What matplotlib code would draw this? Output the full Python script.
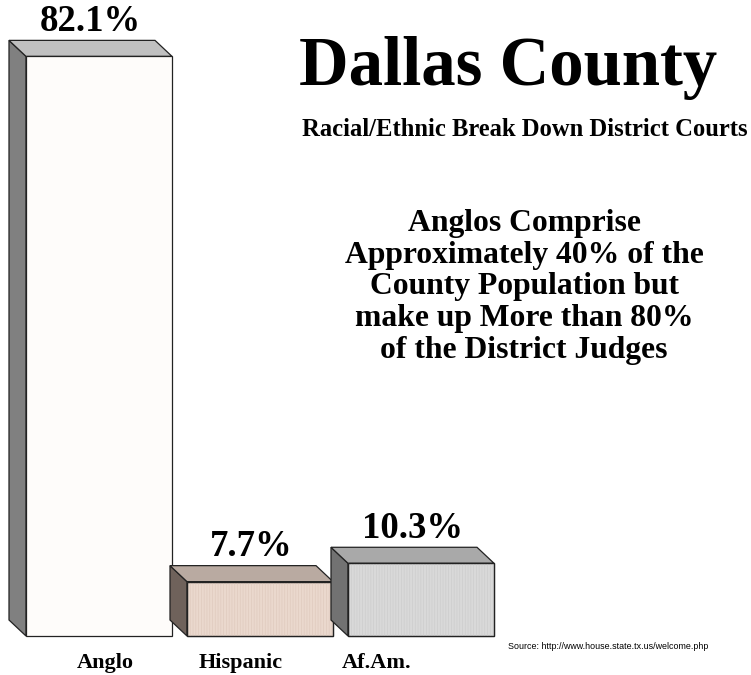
import matplotlib
matplotlib.use("Agg")
import matplotlib.pyplot as plt
from matplotlib.patches import Polygon

categories = ["Anglo", "Hispanic", "Af.Am."]
shares = [82.1, 7.7, 10.3]
value_labels = ["82.1%", "7.7%", "10.3%"]

# face colours per bar: front, side, top
front_colors = ["#fefcfa", "#ead8cd", "#d9d9d9"]
side_colors = ["#808080", "#6f625b", "#727272"]
top_colors = ["#c0c0c0", "#b9aaa1", "#a9a9a9"]
hatch_colors = ["#fefcfa", "#dfcabe", "#cdcdcd"]

plt.rcParams["hatch.linewidth"] = 0.5

W, H = 751, 675
fig = plt.figure(figsize=(W / 100, H / 100), dpi=100)
ax = fig.add_axes([0, 0, 1, 1])

# pixel-based scaling: category spacing and percent scale
px_per_cat = 161.0
px_per_pct = 7.06
x0_px = 99.0          # centre of first bar front
base_px = 675 - 636   # baseline from bottom
ax.set_xlim(-x0_px / px_per_cat, (W - x0_px) / px_per_cat)
ax.set_ylim(-base_px / px_per_pct, (H - base_px) / px_per_pct)
ax.axis("off")

bar_w = 146.0 / px_per_cat
dx = -17.0 / px_per_cat
dy = 16.0 / px_per_pct
label_gap = 9.5 / px_per_pct

serif = ["Liberation Serif", "DejaVu Serif"]

for i, (v, lab) in enumerate(zip(shares, value_labels)):
    xl, xr = i - bar_w / 2, i + bar_w / 2
    # side face (to the left, receding)
    side = Polygon([(xl, 0), (xl + dx, dy), (xl + dx, v + dy), (xl, v)],
                   closed=True, facecolor=side_colors[i], edgecolor="#222222",
                   linewidth=0.9, zorder=2 + i * 3)
    # top face
    top = Polygon([(xl, v), (xl + dx, v + dy), (xr + dx, v + dy), (xr, v)],
                  closed=True, facecolor=top_colors[i], edgecolor="#222222",
                  linewidth=0.9, zorder=2 + i * 3)
    ax.add_patch(side)
    ax.add_patch(top)
    # front face
    ax.bar(i, v, width=bar_w, color=front_colors[i], edgecolor="#222222",
           linewidth=0.9, zorder=3 + i * 3)
    if i > 0:
        ax.bar(i, v, width=bar_w, color="none", edgecolor=hatch_colors[i],
               hatch="||||||", linewidth=0, zorder=3 + i * 3)
        ax.bar(i, v, width=bar_w, color="none", edgecolor="#222222",
               linewidth=0.9, zorder=3 + i * 3)
    ax.text(i + dx / 2, v + dy + label_gap, lab, ha="center", va="baseline",
            fontsize=26.5, fontweight="bold", family=serif, zorder=20)

# category labels under the bars
label_x_px = [105, 241, 377]
for name, xp in zip(categories, label_x_px):
    fig.text(xp / W, 1 - 668 / H, name, ha="center", va="baseline",
             fontsize=16, fontweight="bold", family=serif)

fig.text(508 / W, 1 - 85 / H, "Dallas County", ha="center", va="baseline",
         fontsize=49.5, fontweight="bold", family=serif)
fig.text(525 / W, 1 - 136 / H, "Racial/Ethnic Break Down District Courts",
         ha="center", va="baseline", fontsize=17.7, fontweight="bold",
         family=serif)
fig.text(524 / W, 1 - 287 / H,
         "Anglos Comprise\nApproximately 40% of the\nCounty Population but\n"
         "make up More than 80%\nof the District Judges",
         ha="center", va="center", fontsize=22.8, fontweight="bold",
         family=serif, linespacing=1.12)
fig.text(608 / W, 1 - 649 / H, "Source: http://www.house.state.tx.us/welcome.php",
         ha="center", va="baseline", fontsize=6.4,
         family=["Liberation Sans", "DejaVu Sans"])

fig.savefig("out.png", dpi=100, facecolor="white")
